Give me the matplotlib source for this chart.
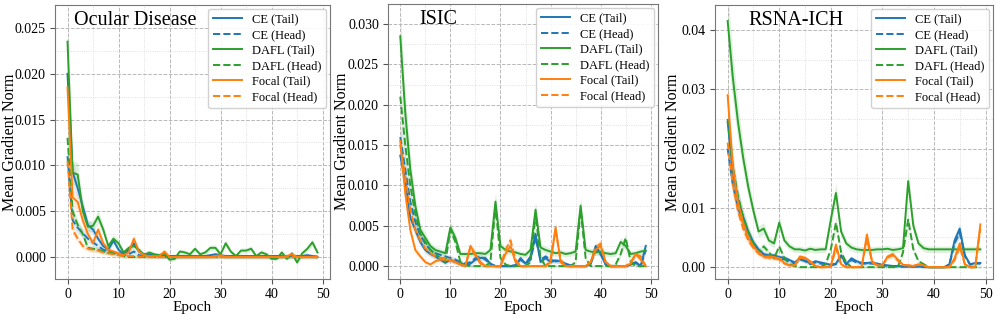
import numpy as np
import matplotlib
matplotlib.use("Agg")
import matplotlib.pyplot as plt
from matplotlib.ticker import AutoMinorLocator, FormatStrFormatter

plt.rcParams['font.family'] = ['Liberation Serif', 'DejaVu Serif']

epochs = np.arange(50)

# values in units of 1e-3
ocular_ce_tail = [20.0, 9.3, 7.5, 5.5, 3.5, 3.0, 2.0, 1.2, 0.8, 1.8,
                  0.8, 0.3, 0.8, 1.5, 0.6, 0.3, 0.3, 0.2, 0.2, 0.1,
                  0.1, 0.1, 0.1, 0.1, 0.1, 0.1, 0.1, 0.1, 0.2, 0.3,
                  0.2, 0.1, 0.1, 0.1, 0.1, 0.1, 0.1, 0.1, 0.1, 0.1,
                  0.1, 0.1, 0.1, 0.1, 0.1, 0.1, 0.1, 0.2, 0.1, 0.0]
ocular_ce_head = [11.0, 4.0, 3.2, 2.6, 2.0, 1.6, 1.2, 0.8, 0.6, 0.5,
                  0.4, 0.2, 0.3, 0.6, 0.2, 0.1, 0.1, 0.1, 0.05, 0.05,
                  0.05, 0.05, 0.05, 0.05, 0.05, 0.05, 0.05, 0.05, 0.05, 0.05,
                  0.05, 0.05, 0.05, 0.05, 0.05, 0.05, 0.05, 0.05, 0.05, 0.05,
                  0.05, 0.05, 0.05, 0.05, 0.05, 0.05, 0.05, 0.05, 0.05, 0.05]
ocular_dafl_tail = [23.5, 9.2, 9.0, 5.0, 3.3, 3.4, 4.4, 3.0, 1.2, 2.0,
                    1.5, 0.5, 1.0, 1.2, 0.8, 0.2, 0.5, 0.3, 0.2, 0.4,
                    -0.3, -0.2, 0.6, 0.5, 0.3, 0.9, 0.3, 0.5, 1.0, 1.0,
                    0.3, 1.5, 0.6, 0.1, 0.7, 0.7, 0.9, 0.1, 0.5, 0.3,
                    -0.2, -0.2, 0.5, -0.2, 0.4, -0.6, 0.4, 0.9, 1.6, 0.5]
ocular_dafl_head = [13.0, 5.0, 3.5, 2.5, 1.0, 0.9, 0.8, 0.6, 0.5, 0.4,
                    0.3, 0.1, 0.0, 0.0, 0.0, 0.0, 0.0, 0.0, 0.0, 0.0,
                    0.0, 0.0, 0.0, 0.0, 0.0, 0.0, 0.0, 0.0, 0.0, 0.0,
                    0.0, 0.0, 0.0, 0.0, 0.0, 0.0, 0.0, 0.0, 0.0, 0.0,
                    0.0, 0.0, 0.0, 0.0, 0.0, 0.0, 0.0, 0.0, 0.0, 0.0]
ocular_focal_tail = [18.5, 6.5, 6.0, 4.0, 2.5, 1.5, 3.0, 1.5, 0.8, 0.6,
                     0.4, 0.2, 0.5, 2.0, 0.6, 0.2, 0.1, 0.1, 0.1, 0.6,
                     0.0, 0.0, 0.0, 0.0, 0.0, 0.0, 0.0, 0.0, 0.0, 0.1,
                     0.2, 0.0, 0.0, 0.0, 0.0, 0.0, 0.0, 0.0, 0.0, 0.0,
                     0.0, 0.0, 0.0, 0.1, 0.3, 0.0, 0.0, 0.0, 0.0, 0.0]
ocular_focal_head = [10.5, 3.0, 2.0, 1.2, 0.9, 0.8, 0.7, 0.5, 0.4, 0.3,
                     0.2, 0.1, 0.1, 0.1, 0.05, 0.05, 0.0, 0.0, 0.0, 0.0,
                     0.0, 0.0, 0.0, 0.0, 0.0, 0.0, 0.0, 0.0, 0.0, 0.0,
                     0.0, 0.0, 0.0, 0.0, 0.0, 0.0, 0.0, 0.0, 0.0, 0.0,
                     0.0, 0.0, 0.0, 0.0, 0.0, 0.0, 0.0, 0.0, 0.0, 0.0]

isic_ce_tail = [13.7, 10.5, 6.0, 4.5, 3.0, 2.0, 1.5, 1.2, 0.8, 0.4,
                0.8, 0.5, 0.4, 0.1, 0.3, 0.8, 1.0, 1.0, 0.3, 0.0,
                0.0, 0.0, 0.0, 0.1, 1.0, 0.3, 1.2, 4.0, 0.5, 1.0,
                0.5, 0.7, 0.6, 0.3, 0.1, 0.0, 0.0, 0.0, 0.3, 2.5,
                1.5, 0.2, 0.0, 0.0, 0.0, 0.0, 0.2, 0.5, 0.0, 2.5]
isic_ce_head = [16.0, 12.0, 8.0, 5.5, 3.8, 2.8, 2.0, 1.6, 1.4, 1.2,
                1.0, 0.8, 0.5, 0.3, 0.5, 1.0, 1.2, 0.8, 0.2, 0.0,
                0.0, 0.0, 0.0, 0.1, 0.8, 0.3, 0.8, 3.5, 0.8, 1.2,
                0.8, 0.6, 0.6, 0.2, 0.0, 0.0, 0.0, 0.0, 0.3, 2.0,
                1.5, 0.2, 0.0, 0.0, 0.0, 0.0, 0.2, 0.4, 0.0, 2.0]
isic_dafl_tail = [28.5, 19.0, 12.0, 7.5, 4.5, 3.5, 2.5, 2.0, 1.8, 1.6,
                  4.8, 3.5, 1.5, 1.5, 1.5, 1.6, 1.6, 1.5, 2.0, 8.0,
                  2.5, 2.0, 1.8, 1.7, 1.5, 1.4, 2.0, 7.0, 2.3, 2.0,
                  1.8, 1.6, 1.7, 1.5, 1.6, 1.8, 7.5, 2.0, 1.8, 1.7,
                  1.8, 1.6, 1.5, 1.6, 3.0, 2.5, 1.5, 1.6, 1.8, 1.9]
isic_dafl_head = [21.0, 15.0, 10.0, 6.5, 4.0, 3.0, 2.0, 1.5, 1.0, 0.5,
                  4.5, 3.0, 0.5, 0.1, 0.0, 0.0, 0.0, 0.0, 0.5, 7.5,
                  1.0, 0.2, 0.0, 0.0, 0.0, 0.0, 0.5, 6.5, 1.0, 0.0,
                  0.0, 0.0, 0.0, 0.0, 0.0, 0.5, 7.0, 1.0, 0.0, 0.0,
                  0.0, 0.0, 0.0, 0.2, 1.5, 3.5, 0.5, 0.0, 0.0, 0.0]
isic_focal_tail = [15.5, 9.0, 4.5, 2.0, 1.2, 0.5, 0.2, 0.6, 0.8, 0.8,
                   0.7, 0.5, 0.2, 0.0, 2.5, 1.5, 0.5, 0.0, 0.0, 0.0,
                   0.0, 1.5, 2.5, 0.5, 0.0, 0.0, 0.0, 0.0, 0.0, 0.0,
                   0.5, 4.8, 0.5, 0.0, 0.0, 0.0, 0.0, 0.0, 0.5, 2.0,
                   2.5, 0.5, 0.0, 0.0, 0.0, 0.0, 0.3, 1.5, 0.8, 0.0]
isic_focal_head = [15.0, 11.0, 7.0, 4.5, 3.2, 2.2, 1.6, 1.2, 1.0, 1.0,
                   0.8, 0.5, 0.2, 0.0, 2.3, 1.3, 0.3, 0.0, 0.0, 0.0,
                   0.0, 2.0, 3.2, 0.8, 0.0, 0.0, 0.0, 0.0, 0.0, 0.0,
                   0.8, 4.5, 0.8, 0.0, 0.0, 0.0, 0.0, 0.0, 0.5, 2.3,
                   2.8, 0.5, 0.0, 0.0, 0.0, 0.0, 0.5, 1.5, 1.2, 0.0]

rsna_ce_tail = [24.5, 16.0, 11.5, 8.5, 6.0, 4.2, 3.0, 2.2, 2.0, 2.0,
                1.7, 1.6, 1.2, 0.8, 1.5, 1.2, 0.6, 1.0, 0.8, 0.6,
                0.4, 0.6, 2.0, 0.5, 1.5, 1.0, 0.7, 0.7, 0.8, 0.6,
                0.4, 0.3, 0.2, 0.2, 0.1, 0.1, 0.1, 0.1, 0.1, 0.0,
                0.0, 0.0, 0.0, 0.5, 4.5, 6.5, 2.0, 0.5, 0.7, 0.7]
rsna_ce_head = [20.0, 14.0, 10.0, 7.5, 5.0, 3.8, 2.8, 2.0, 1.8, 1.8,
                1.5, 1.3, 1.0, 0.6, 1.3, 1.0, 0.5, 0.8, 0.6, 0.5,
                0.3, 0.5, 1.8, 0.4, 1.2, 0.8, 0.6, 0.6, 0.6, 0.5,
                0.3, 0.2, 0.2, 0.1, 0.1, 0.1, 0.1, 0.1, 0.0, 0.0,
                0.0, 0.0, 0.0, 0.4, 4.0, 5.8, 1.8, 0.4, 0.6, 0.6]
rsna_dafl_tail = [41.5, 32.0, 24.5, 18.5, 13.5, 9.5, 6.0, 6.5, 4.5, 4.0,
                  7.5, 4.5, 3.5, 3.0, 3.0, 2.8, 3.1, 2.9, 3.0, 3.0,
                  8.0, 12.5, 6.0, 4.0, 3.3, 3.0, 2.9, 2.9, 2.9, 3.0,
                  3.0, 3.1, 2.9, 3.0, 3.2, 14.5, 7.0, 4.0, 3.2, 3.0,
                  3.0, 3.0, 3.0, 3.0, 3.0, 3.0, 3.0, 3.0, 3.0, 3.0]
rsna_dafl_head = [25.0, 17.0, 12.0, 8.5, 6.0, 4.0, 2.5, 3.5, 2.5, 1.5,
                  3.5, 1.5, 0.5, 0.2, 0.0, 0.0, 0.0, 0.0, 0.0, 0.5,
                  3.0, 7.5, 2.5, 0.8, 0.0, 0.0, 0.0, 0.0, 0.0, 0.0,
                  0.0, 0.0, 0.0, 0.0, 2.5, 8.0, 3.0, 1.0, 0.5, 0.0,
                  0.0, 0.0, 0.0, 0.0, 0.0, 0.0, 0.0, 0.0, 0.0, 0.0]
rsna_focal_tail = [29.0, 17.0, 11.0, 7.5, 5.0, 3.5, 2.5, 1.8, 1.8, 1.7,
                   1.5, 0.7, 0.3, 0.3, 1.8, 1.6, 1.0, 0.2, 0.0, 0.0,
                   0.1, 3.8, 0.5, 0.0, 0.0, 0.0, 0.1, 5.5, 1.0, 0.3,
                   0.3, 1.8, 2.2, 1.3, 0.4, 0.3, 0.2, 0.5, 0.3, 0.0,
                   0.0, 0.0, 0.0, 0.0, 1.5, 4.0, 0.5, 0.0, 0.0, 7.2]
rsna_focal_head = [21.0, 14.0, 9.5, 6.5, 4.5, 3.2, 2.3, 1.7, 1.6, 1.5,
                   1.3, 0.6, 0.3, 0.3, 1.6, 1.4, 0.8, 0.2, 0.0, 0.0,
                   0.1, 3.2, 0.4, 0.0, 0.0, 0.0, 0.1, 4.8, 0.8, 0.3,
                   0.3, 1.6, 2.0, 1.1, 0.3, 0.3, 0.2, 0.4, 0.2, 0.0,
                   0.0, 0.0, 0.0, 0.0, 1.2, 3.5, 0.4, 0.0, 0.0, 6.5]

panels = [
    ("Ocular Disease", [ocular_ce_tail, ocular_ce_head, ocular_dafl_tail,
                        ocular_dafl_head, ocular_focal_tail, ocular_focal_head],
     (-0.0024, 0.0275), [0.0, 0.005, 0.010, 0.015, 0.020, 0.025], "%.3f"),
    ("ISIC", [isic_ce_tail, isic_ce_head, isic_dafl_tail,
              isic_dafl_head, isic_focal_tail, isic_focal_head],
     (-0.0016, 0.0325), [0.0, 0.005, 0.010, 0.015, 0.020, 0.025, 0.030], "%.3f"),
    ("RSNA-ICH", [rsna_ce_tail, rsna_ce_head, rsna_dafl_tail,
                  rsna_dafl_head, rsna_focal_tail, rsna_focal_head],
     (-0.002, 0.0442), [0.0, 0.01, 0.02, 0.03, 0.04], "%.2f"),
]

labels = ['CE (Tail)', 'CE (Head)', 'DAFL (Tail)', 'DAFL (Head)', 'Focal (Tail)', 'Focal (Head)']
colors = ['#1f77b4', '#1f77b4', '#2ca02c', '#2ca02c', '#ff7f0e', '#ff7f0e']
styles = ['-', '--', '-', '--', '-', '--']
band_frac = 0.12
band_min = 0.0002

fig = plt.figure(figsize=(9.96, 3.14), dpi=100)
W, H = 996.0, 314.0
boxes = [(55, 5, 275, 274), (388, 4, 270, 275), (715, 5, 278, 274)]
title_x = [0.07, 0.115, 0.12]
ylabel_x = [10, 342, 673]   # centre of the y label, figure pixels

for i, (name, series, ylim, yticks, fmt) in enumerate(panels):
    l, t, w, h = boxes[i]
    ax = fig.add_axes([l / W, (H - t - h) / H, w / W, h / H])
    for s, lab, c, ls in zip(series, labels, colors, styles):
        y = np.array(s) * 1e-3
        band = band_frac * np.abs(y) + band_min
        ax.fill_between(epochs, y - band, y + band, color=c, alpha=0.15, lw=0)
        ax.plot(epochs, y, ls, color=c, lw=1.4, label=lab)
    ax.set_xlim(-2.45, 51.45)
    ax.set_ylim(*ylim)
    ax.set_xticks([0, 10, 20, 30, 40, 50])
    ax.set_yticks(yticks)
    ax.yaxis.set_major_formatter(FormatStrFormatter(fmt))
    ax.xaxis.set_minor_locator(AutoMinorLocator(2))
    ax.yaxis.set_minor_locator(AutoMinorLocator(2))
    ax.grid(which='major', ls='--', color='#b8b8b8', lw=0.7)
    ax.grid(which='minor', ls=':', color='#d5d5d5', lw=0.6)
    ax.tick_params(which='minor', length=0)
    ax.tick_params(labelsize=10, length=3.5, color='#555555', pad=3)
    for sp in ax.spines.values():
        sp.set_color('#777777')
    ax.set_xlabel('Epoch', fontsize=11, labelpad=0)
    ax.set_ylabel('Mean Gradient Norm', fontsize=11.5, va='center')
    ax.yaxis.set_label_coords((ylabel_x[i] - l) / w, 0.5)
    ax.text(title_x[i], 0.945, name, transform=ax.transAxes, fontsize=14.5,
            ha='left', va='center')
    ax.legend(loc='upper right', fontsize=9, handlelength=2.3,
              labelspacing=0.28, borderaxespad=0.3, framealpha=0.9)

fig.savefig('out.png', dpi=100)
